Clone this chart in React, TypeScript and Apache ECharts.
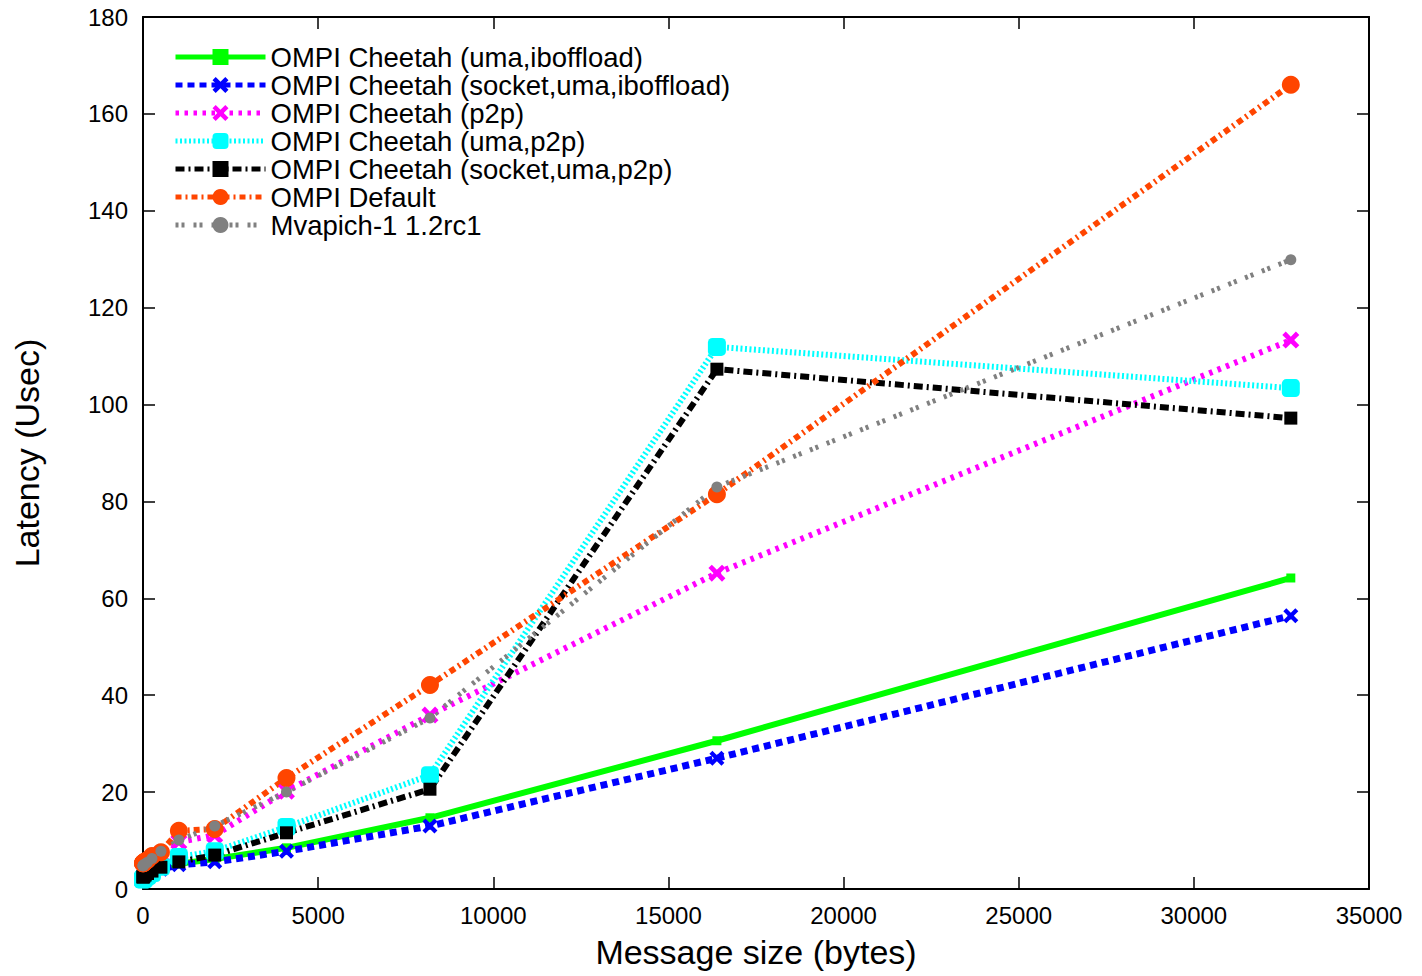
import React, { useEffect, useRef } from "react";
import * as echarts from "echarts";

const sizes = [1, 2, 4, 8, 16, 32, 64, 128, 256, 512, 1024, 2048, 4096, 8192, 16384, 32768];

const names = [
  "OMPI Cheetah (uma,iboffload)",
  "OMPI Cheetah (socket,uma,iboffload)",
  "OMPI Cheetah (p2p)",
  "OMPI Cheetah (uma,p2p)",
  "OMPI Cheetah (socket,uma,p2p)",
  "OMPI Default",
  "Mvapich-1 1.2rc1",
];

const umaIboffload = [2.5, 2.5, 2.5, 2.6, 2.6, 2.7, 2.9, 3.2, 3.6, 4.3, 5.2, 6.2, 8.5, 14.7, 30.6, 64.2];
const socketUmaIboffload = [2.3, 2.3, 2.3, 2.4, 2.4, 2.5, 2.7, 3.0, 3.4, 4.1, 5.0, 5.6, 7.8, 13.0, 27.0, 56.4];
const p2p = [4.3, 4.3, 4.3, 4.4, 4.4, 4.5, 4.7, 5.0, 5.8, 7.2, 9.7, 11.1, 20.2, 35.9, 65.2, 113.3];
const umaP2p = [2.0, 2.0, 2.0, 2.1, 2.1, 2.2, 2.4, 2.7, 3.3, 4.6, 6.6, 7.8, 12.8, 23.5, 111.9, 103.4];
const socketUmaP2p = [2.5, 2.5, 2.5, 2.6, 2.6, 2.7, 2.9, 3.2, 3.7, 4.5, 5.6, 7.0, 11.6, 20.6, 107.3, 97.2];
const ompiDefault = [5.3, 5.3, 5.3, 5.4, 5.4, 5.5, 5.7, 6.0, 6.8, 7.6, 12.0, 12.4, 22.9, 42.1, 81.5, 166.0];
const mvapich = [4.8, 4.8, 4.8, 4.9, 4.9, 5.0, 5.2, 5.5, 6.3, 7.8, 10.1, 13.0, 20.0, 35.3, 83.0, 129.9];

const allValues = [umaIboffload, socketUmaIboffload, p2p, umaP2p, socketUmaP2p, ompiDefault, mvapich];

const colors = ["#00ff00", "#0000ff", "#ff00ff", "#00ffff", "#000000", "#ff4500", "#808080"];
const X_PATH = "path://M2,0 L5,3 L8,0 L10,2 L7,5 L10,8 L8,10 L5,7 L2,10 L0,8 L3,5 L0,2 Z";
const symbols = ["rect", X_PATH, X_PATH, "roundRect", "rect", "circle", "circle"];
const symbolSizes = [9, 15, 17, 18, 13, 18, 11];
const widths = [6, 7, 6, 6, 6, 6, 5];
const dashes: any[] = ["solid", [7, 5], [3.5, 5.5], [2, 2.5], [9, 4, 2, 4], [6, 4, 2, 4], [3, 3, 3, 9]];

const FONT = "Liberation Sans";

export default function App() {
  const ref = useRef<HTMLDivElement>(null);
  useEffect(() => {
    if (!ref.current) return;
    document.body.style.margin = "0";
    const chart = echarts.init(ref.current, null, { renderer: "svg" });
    const tickCommon = { show: true, inside: true, length: 12, lineStyle: { color: "#000", width: 1.5 } };
    const lineCommon = { show: true, onZero: false, lineStyle: { color: "#000", width: 2 } };
    const fmt = (v: number) => String(v);
    chart.setOption({
      animation: false,
      backgroundColor: "#fff",
      grid: { left: 143, right: 53, top: 17, bottom: 87, containLabel: false, outerBoundsMode: "none" },
      legend: {
        left: 173,
        top: 43,
        padding: 0,
        orient: "vertical",
        itemWidth: 90,
        itemHeight: 20,
        itemGap: 0,
        lineStyle: { width: 5 },
        textStyle: { fontFamily: FONT, fontSize: 27.5, color: "#000", lineHeight: 27.5 },
        data: names,
      },
      xAxis: [
        {
          type: "value",
          min: 0,
          max: 35000,
          interval: 5000,
          name: "Message size (bytes)",
          nameLocation: "middle",
          nameGap: 46,
          nameTextStyle: { fontFamily: FONT, fontSize: 34, color: "#000" },
          axisLine: lineCommon,
          axisTick: tickCommon,
          axisLabel: { fontFamily: FONT, fontSize: 24, color: "#000", margin: 14, formatter: fmt },
          splitLine: { show: false },
        },
        {
          type: "value",
          position: "top",
          min: 0,
          max: 35000,
          interval: 5000,
          axisLine: lineCommon,
          axisTick: tickCommon,
          axisLabel: { show: false },
          splitLine: { show: false },
        },
      ],
      yAxis: [
        {
          type: "value",
          min: 0,
          max: 180,
          interval: 20,
          name: "Latency (Usec)",
          nameLocation: "middle",
          nameGap: 99,
          nameTextStyle: { fontFamily: FONT, fontSize: 34, color: "#000" },
          axisLine: lineCommon,
          axisTick: tickCommon,
          axisLabel: { fontFamily: FONT, fontSize: 24, color: "#000", margin: 15, formatter: fmt },
          splitLine: { show: false },
        },
        {
          type: "value",
          position: "right",
          min: 0,
          max: 180,
          interval: 20,
          axisLine: lineCommon,
          axisTick: tickCommon,
          axisLabel: { show: false },
          splitLine: { show: false },
        },
      ],
      series: names.map((n, i) => ({
        name: n,
        type: "line",
        xAxisIndex: 0,
        yAxisIndex: 0,
        data: sizes.map((s, j) => [s, allValues[i][j]]),
        symbol: symbols[i],
        symbolSize: symbolSizes[i],
        showSymbol: true,
        itemStyle: { color: colors[i], borderWidth: 0 },
        lineStyle: { color: colors[i], width: widths[i], type: dashes[i] },
        emphasis: { disabled: true },
      })),
    });
    return () => chart.dispose();
  }, []);
  return <div ref={ref} style={{ width: 1422, height: 976 }} />;
}
